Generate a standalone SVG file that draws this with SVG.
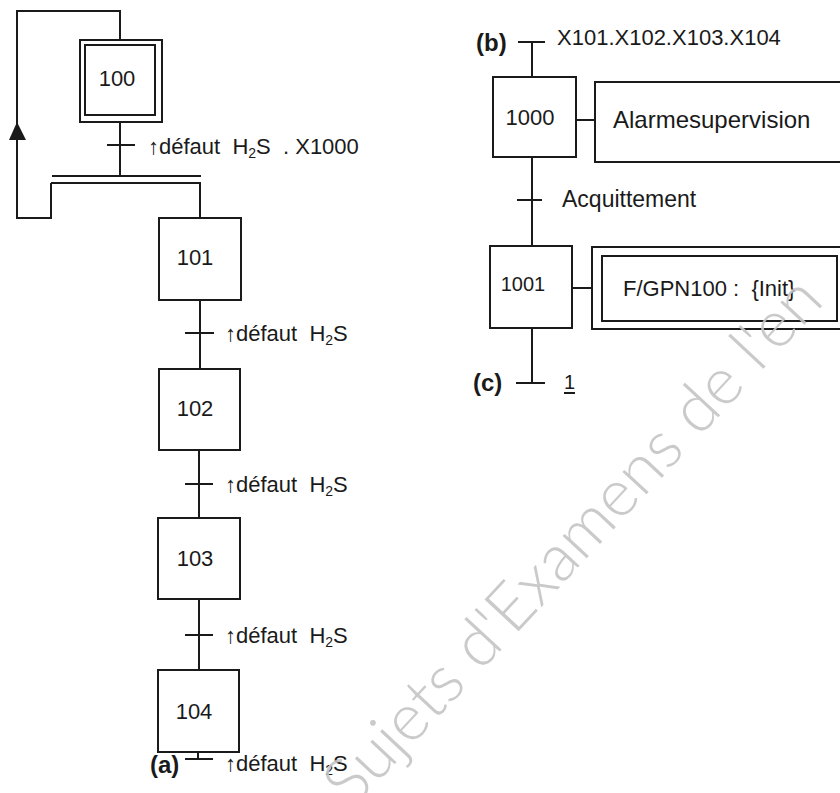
<svg xmlns="http://www.w3.org/2000/svg" width="840" height="793" viewBox="0 0 840 793">
<style>
.ln{fill:none;stroke:#1a1a1a;stroke-width:2}
.bx{fill:#fff;stroke:#1a1a1a;stroke-width:2}
.t{font-family:"Liberation Sans",Arial,sans-serif;font-size:22px;fill:#1a1a1a}
.num{font-family:"Liberation Sans",Arial,sans-serif;font-size:22px;fill:#1a1a1a;text-anchor:middle}
.lab{font-family:"Liberation Sans",Arial,sans-serif;font-size:24px;font-weight:bold;fill:#1a1a1a}
.sub{font-size:14px}
.wm{font-family:Lato,"Noto Sans",sans-serif;font-size:66px;fill:#c4c4c4;fill-opacity:0.9;font-weight:300}
</style>
<rect width="840" height="793" fill="#fff"/>
<g id="connectors">
<path class="ln" d="M120,40 V11 H17 V218 H51 V183"/>
<polygon points="17,122 9,140 26,140" fill="#1a1a1a"/>
<path class="ln" d="M120,122 V176"/>
<path class="ln" d="M107,145 H135"/>
<path class="ln" d="M52,176 H201 M51,183 H201"/>
<path class="ln" d="M200,183 V218"/>
<path class="ln" d="M200,300 V369 M185,333 H214"/>
<path class="ln" d="M199,450 V518 M185,484 H213"/>
<path class="ln" d="M199,599 V670 M185,635 H213"/>
<path class="ln" d="M198,752 V759 M185,759 H213"/>
<path class="ln" d="M518,42 H545 M532,42 V77"/>
<path class="ln" d="M576,120 H595"/>
<path class="ln" d="M532,157 V246 M517,200 H542"/>
<path class="ln" d="M572,288 H592"/>
<path class="ln" d="M532,328 V383 M516,383 H545"/>
<path class="ln" d="M564,393 H575"/>
</g>
<g id="step100">
<rect class="bx" x="80" y="40" width="82" height="82"/>
<rect class="bx" x="85" y="45" width="70" height="70"/>
<text class="num" x="117" y="86">100</text>
</g>
<g id="step101">
<rect class="bx" x="159" y="218" width="82" height="82"/>
<text class="num" x="195" y="265">101</text>
</g>
<g id="step102">
<rect class="bx" x="159" y="369" width="81" height="81"/>
<text class="num" x="195" y="416">102</text>
</g>
<g id="step103">
<rect class="bx" x="158" y="518" width="82" height="81"/>
<text class="num" x="195" y="566">103</text>
</g>
<g id="step104">
<rect class="bx" x="158" y="670" width="81" height="82"/>
<text class="num" x="194" y="719">104</text>
</g>
<g id="labels-a">
<text class="t" x="148" y="154" xml:space="preserve">↑défaut  H<tspan class="sub" dy="4">2</tspan><tspan dy="-4">S  . X1000</tspan></text>
<text class="t" x="225" y="341" xml:space="preserve">↑défaut  H<tspan class="sub" dy="4">2</tspan><tspan dy="-4">S</tspan></text>
<text class="t" x="225" y="492" xml:space="preserve">↑défaut  H<tspan class="sub" dy="4">2</tspan><tspan dy="-4">S</tspan></text>
<text class="t" x="225" y="643" xml:space="preserve">↑défaut  H<tspan class="sub" dy="4">2</tspan><tspan dy="-4">S</tspan></text>
<text class="t" x="225" y="771" xml:space="preserve">↑défaut  H<tspan class="sub" dy="4">2</tspan><tspan dy="-4">S</tspan></text>
<text class="lab" x="150" y="773">(a)</text>
</g>
<g id="step1000">
<rect class="bx" x="493" y="77" width="83" height="80"/>
<text class="num" x="530" y="125">1000</text>
</g>
<g id="action1000">
<rect class="bx" x="595" y="82" width="260" height="80"/>
<text class="t" x="613" y="128" style="font-size:24px">Alarmesupervision</text>
</g>
<g id="step1001">
<rect class="bx" x="490" y="246" width="82" height="82"/>
<text class="num" x="523" y="291" style="font-size:20px">1001</text>
</g>
<g id="action1001">
<rect class="bx" x="592" y="247" width="260" height="82"/>
<rect class="bx" x="602" y="256" width="235" height="65"/>
<text class="t" x="623" y="296" xml:space="preserve">F/GPN100 :  {Init}</text>
</g>
<g id="labels-bc">
<text class="lab" x="476" y="51">(b)</text>
<text class="t" x="557" y="45">X101.X102.X103.X104</text>
<text class="t" x="562" y="207" style="font-size:23px">Acquittement</text>
<text class="lab" x="473" y="391">(c)</text>
<text class="t" x="564" y="389" style="font-size:20px">1</text>
</g>
<g id="watermark">
<text class="wm" transform="translate(352,810) rotate(-47)">Sujets d'Examens de l'en</text>
</g>
</svg>
